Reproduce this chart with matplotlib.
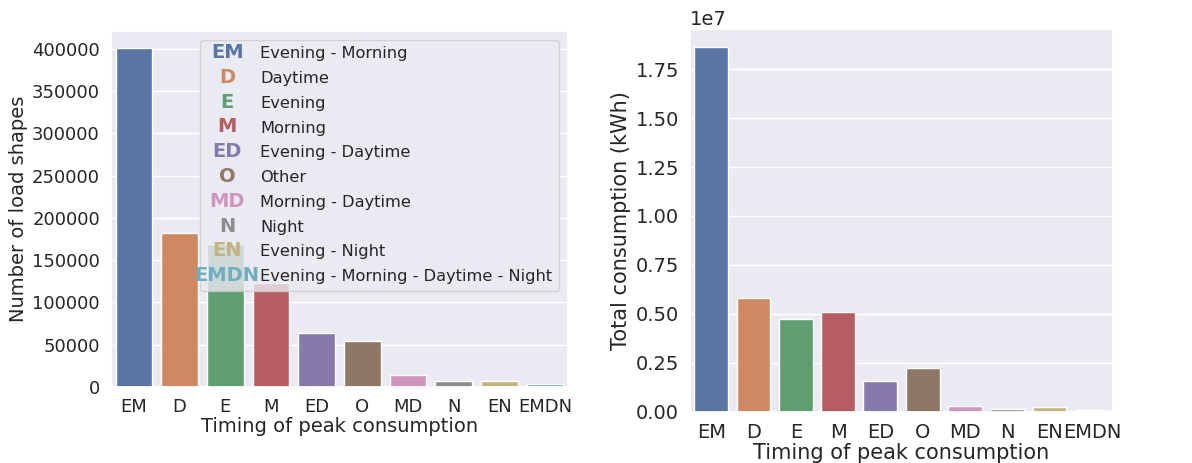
import matplotlib
matplotlib.use("Agg")
import matplotlib.pyplot as plt
import seaborn as sns
from matplotlib.legend_handler import HandlerBase
from matplotlib.text import Text

categories = ["EM", "D", "E", "M", "ED", "O", "MD", "N", "EN", "EMDN"]
full_names = ["Evening - Morning", "Daytime", "Evening", "Morning",
              "Evening - Daytime", "Other", "Morning - Daytime", "Night",
              "Evening - Night", "Evening - Morning - Daytime - Night"]
n_shapes = [401000, 182700, 169500, 123200, 63900, 54500, 14500, 7000, 6800, 3200]
total_kwh = [1.863e7, 0.580e7, 0.473e7, 0.509e7, 0.157e7, 0.220e7,
             0.026e7, 0.012e7, 0.022e7, 0.007e7]

sns.set_theme(style="darkgrid")
plt.rcParams['font.family'] = ['DejaVu Sans']

palette = sns.color_palette("deep", 10)
# barplot desaturates to 0.75, use the same for the legend letters
text_colors = [sns.desaturate(c, 0.75) for c in palette]


class TextHandle:
    def __init__(self, text, color):
        self.text = text
        self.color = color


class TextHandler(HandlerBase):
    def create_artists(self, legend, orig_handle, xdescent, ydescent,
                       width, height, fontsize, trans):
        t = Text(width / 2 - xdescent, height / 2 - ydescent, orig_handle.text,
                 color=orig_handle.color, fontsize=14, fontweight="bold",
                 ha="center", va="center", transform=trans)
        return [t]


fig = plt.figure(figsize=(11.92, 4.63), dpi=100)
ax1 = fig.add_axes([111 / 1192, 1 - 387 / 463, 457 / 1192, 356 / 463])
ax2 = fig.add_axes([690 / 1192, 1 - 411.5 / 463, 423 / 1192, 382.5 / 463])

sns.barplot(x=categories, y=n_shapes, hue=categories, palette=palette,
            legend=False, ax=ax1)
ax1.set_xlabel("Timing of peak consumption", fontsize=14, labelpad=1)
ax1.set_ylabel("Number of load shapes", fontsize=14, labelpad=3)
ax1.tick_params(labelsize=13, pad=2)

handles = [TextHandle(c, col) for c, col in zip(categories, text_colors)]
ax1.legend(handles, full_names, handler_map={TextHandle: TextHandler()},
           loc="upper right", fontsize=11.7, labelspacing=0.6,
           handlelength=2.5, borderaxespad=0.55)

sns.barplot(x=categories, y=total_kwh, hue=categories, palette=palette,
            legend=False, ax=ax2)
ax2.set_xlabel("Timing of peak consumption", fontsize=15, labelpad=1)
ax2.set_ylabel("Total consumption (kWh)", fontsize=15, labelpad=3)
ax2.tick_params(labelsize=14, pad=2)
ax2.yaxis.get_offset_text().set_fontsize(14)

fig.savefig("out.png", dpi=100)
